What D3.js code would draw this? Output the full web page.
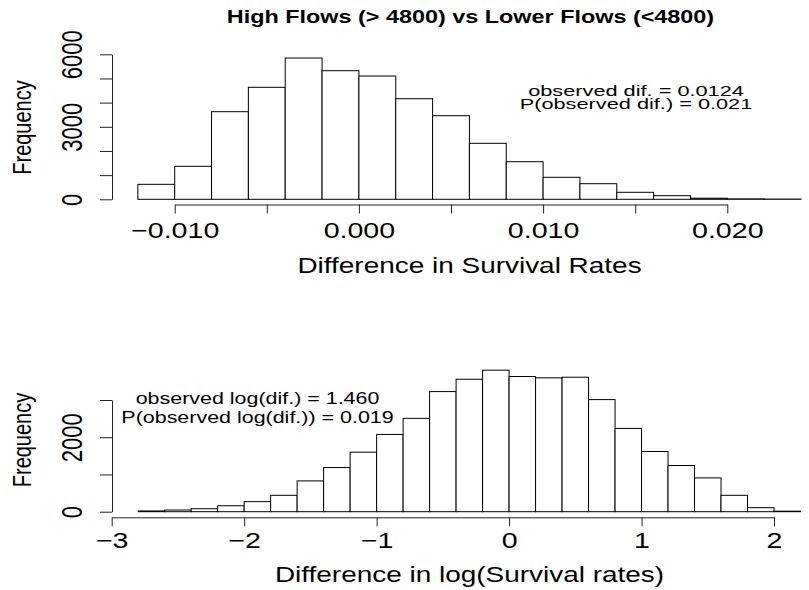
<!DOCTYPE html>
<html><head><meta charset="utf-8">
<script src="https://cdn.jsdelivr.net/npm/d3@7"></script>
<style>
body{margin:0;background:#fff}
svg{display:block}
text{font-family:"Liberation Sans",Arial,Helvetica,sans-serif;fill:#000}
</style>
</head><body>
<svg id="c" width="809" height="590"></svg>
<script>
// ---------- data ----------
const topBreaks = [-0.012,-0.010,-0.008,-0.006,-0.004,-0.002,0.000,0.002,0.004,0.006,0.008,0.010,0.012,0.014,0.016,0.018,0.020,0.022,0.024];
const topCounts = [620,1365,3625,4634,5846,5321,5101,4162,3459,2317,1556,910,645,290,150,45,20,10];
const topXTicks = [-0.010,-0.005,0.000,0.005,0.010,0.015,0.020];
const topXTickLabels = ["\u22120.010","","0.000","","0.010","","0.020"];
const topYTicks = [0,1000,2000,3000,4000,5000,6000];
const topYTickLabels = ["0","","","3000","","","6000"];

const botBreaks = [-2.8,-2.6,-2.4,-2.2,-2.0,-1.8,-1.6,-1.4,-1.2,-1.0,-0.8,-0.6,-0.4,-0.2,0.0,0.2,0.4,0.6,0.8,1.0,1.2,1.4,1.6,1.8,2.0,2.2];
const botCounts = [20,45,80,160,270,440,827,1186,1599,2075,2507,3226,3558,3801,3631,3595,3612,3011,2237,1617,1240,908,440,108,15];
const botXTicks = [-3,-2,-1,0,1,2];
const botXTickLabels = ["\u22123","\u22122","\u22121","0","1","2"];
const botYTicks = [0,1000,2000,3000];
const botYTickLabels = ["0","","2000",""];

const mainTitle = "High Flows (> 4800) vs Lower Flows (<4800)";
const topXLabel = "Difference in Survival Rates";
const botXLabel = "Difference in log(Survival rates)";
const yLabel = "Frequency";
const topNote = ["observed dif. = 0.0124","P(observed dif.) = 0.021"];
const botNote = ["observed log(dif.) = 1.460","P(observed log(dif.)) = 0.019"];

// ---------- drawing ----------
const SX = 1.3; // horizontal glyph stretch of the reference
const svg = d3.select("#c");

function txt(x, y, s, size, opts={}) {
  const rot = opts.rotate ? " rotate(-90)" : "";
  const sx = opts.sx || SX;
  return svg.append("text")
    .attr("transform", `translate(${x},${y}) scale(${sx},1)${rot}`)
    .attr("text-anchor", opts.anchor || "middle")
    .style("font-size", size + "px")
    .style("font-weight", opts.bold ? "bold" : "normal")
    .text(s);
}

function panel(cfg) {
  const x = d3.scaleLinear().domain(cfg.xDomain).range(cfg.xRange);
  const y = d3.scaleLinear().domain(cfg.yDomain).range(cfg.yRange);
  const bins = cfg.counts.map((c,i)=>({x0:cfg.breaks[i], x1:cfg.breaks[i+1], c}));
  svg.append("g").selectAll("rect").data(bins).join("rect")
    .attr("x", d=>x(d.x0)).attr("width", d=>x(d.x1)-x(d.x0))
    .attr("y", d=>y(d.c)).attr("height", d=>y(0)-y(d.c))
    .attr("fill","#fff").attr("stroke","#000").attr("stroke-width",1);

  // x axis
  const gx = svg.append("g").attr("transform",`translate(0,${cfg.xAxisY})`)
    .call(d3.axisBottom(x).tickValues(cfg.xTicks).tickSize(9).tickSizeOuter(0).tickFormat((d,i)=>cfg.xLabels[i]));
  gx.select(".domain").attr("stroke","#222");
  gx.selectAll(".tick line").attr("stroke","#222");
  gx.selectAll(".tick text").attr("y",0).attr("dy",0)
    .attr("transform",`translate(0,${cfg.xLabOff}) scale(${SX},1)`)
    .style("font-size","22px").attr("fill","#000");

  // y axis
  const gy = svg.append("g").attr("transform",`translate(${cfg.yAxisX},0)`)
    .call(d3.axisLeft(y).tickValues(cfg.yTicks).tickSize(12).tickSizeOuter(0).tickFormat((d,i)=>cfg.yLabels[i]));
  gy.select(".domain").attr("stroke","#222");
  gy.selectAll(".tick line").attr("stroke","#222");
  gy.selectAll(".tick text").attr("x",0).attr("dy",0).attr("y",0)
    .attr("text-anchor","middle")
    .attr("transform",`translate(-30.5,0) scale(${SX},1) rotate(-90)`)
    .style("font-size","22px").attr("fill","#000");

  txt(469.5, cfg.xTitleY, cfg.xTitle, 21.5);
  txt(31, cfg.yTitleY, yLabel, 20, {rotate:true});
  cfg.note.forEach((s,i)=>txt(cfg.noteX, cfg.noteY[i], s, cfg.noteSize, {sx:cfg.noteSX}));
}

txt(470.5, 23, mainTitle, 18, {bold:true});

panel({
  breaks: topBreaks, counts: topCounts,
  xDomain:[-0.010,0.020], xRange:[174.7,727.3],
  yDomain:[0,6000], yRange:[199.3,54.3],
  xAxisY:204.5, yAxisX:112,
  xTicks: topXTicks, xLabels: topXTickLabels, xLabOff:33.5,
  yTicks: topYTicks, yLabels: topYTickLabels,
  xTitle: topXLabel, xTitleY:273, yTitleY:127.5,
  note: topNote, noteX:636, noteY:[95.5,108.5], noteSize:15, noteSX:1.45
});

panel({
  breaks: botBreaks, counts: botCounts,
  xDomain:[-3,2], xRange:[111.7,774],
  yDomain:[0,3000], yRange:[511.7,400],
  xAxisY:517.3, yAxisX:112,
  xTicks: botXTicks, xLabels: botXTickLabels, xLabOff:31,
  yTicks: botYTicks, yLabels: botYTickLabels,
  xTitle: botXLabel, xTitleY:581.5, yTitleY:440,
  note: botNote, noteX:257.5, noteY:[404,423], noteSize:16.5, noteSX:1.3
});
</script>
</body></html>
